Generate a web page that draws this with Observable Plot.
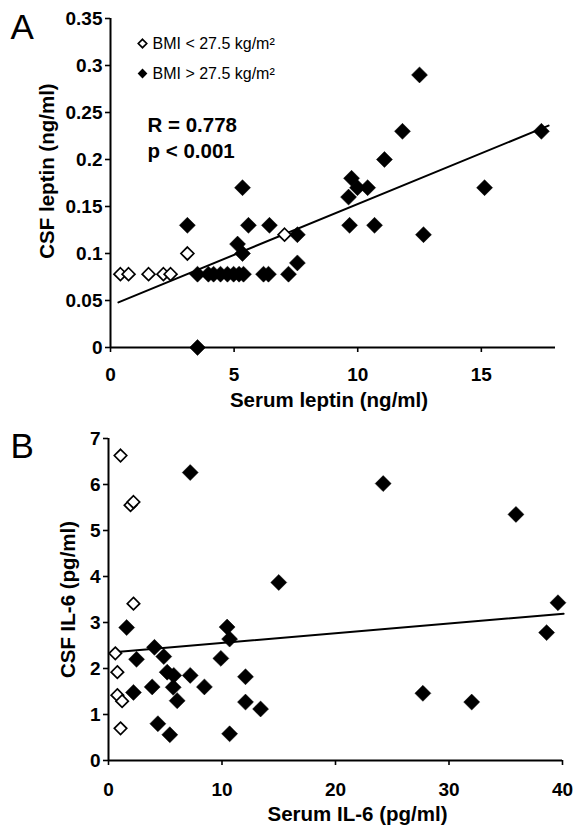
<!DOCTYPE html>
<html><head><meta charset="utf-8">
<script src="https://cdn.jsdelivr.net/npm/d3@7"></script>
<script src="https://cdn.jsdelivr.net/npm/@observablehq/plot@0.6"></script>
<style>body{margin:0;background:#fff;} #chart{width:576px;} #chart svg{display:block;}</style>
</head><body><div id="chart"></div>
<script>
// Panel A: serum leptin vs CSF leptin
const leptinLowX = [0.40, 0.73, 1.54, 2.14, 2.43, 3.11, 7.04];
const leptinLowY = [0.078, 0.078, 0.078, 0.078, 0.078, 0.10, 0.12];
const leptinHighX = [3.11, 3.52, 3.52, 3.96, 4.17, 4.45, 4.73, 4.98, 5.20, 5.38, 6.19, 6.39, 7.20, 7.56, 5.34, 5.58, 6.43, 5.14, 5.34, 7.56, 9.63, 9.67, 9.75, 9.99, 10.40, 10.68, 11.08, 12.50, 11.81, 15.13, 12.66, 17.43];
const leptinHighY = [0.13, 0, 0.078, 0.078, 0.078, 0.078, 0.078, 0.078, 0.078, 0.078, 0.078, 0.078, 0.078, 0.09, 0.17, 0.13, 0.13, 0.11, 0.10, 0.12, 0.16, 0.13, 0.18, 0.17, 0.17, 0.13, 0.20, 0.29, 0.23, 0.17, 0.12, 0.23];
const fitAX = [0.32, 17.72];
const fitAY = [0.048, 0.236];
const xTicksA = [0, 5, 10, 15];
const yTicksA = [0, 0.05, 0.1, 0.15, 0.2, 0.25, 0.3, 0.35];

// Panel B: serum IL-6 vs CSF IL-6
const il6LowX = [1.06, 1.94, 2.20, 2.20, 0.60, 0.78, 0.78, 1.20, 1.06];
const il6LowY = [6.63, 5.55, 5.62, 3.41, 2.33, 1.92, 1.42, 1.29, 0.70];
const il6HighX = [7.2, 1.6, 2.47, 2.2, 4.05, 3.85, 4.87, 4.35, 5.4, 5.17, 5.75, 5.7, 6.05, 7.2, 8.45, 9.9, 10.45, 10.67, 10.67, 12.07, 12.07, 13.4, 15.0, 24.2, 35.9, 39.6, 38.6, 27.7, 32.0];
const il6HighY = [6.26, 2.89, 2.2, 1.48, 2.46, 1.6, 2.26, 0.8, 0.56, 1.92, 1.85, 1.59, 1.3, 1.85, 1.6, 2.22, 2.9, 2.64, 0.58, 1.82, 1.27, 1.12, 3.87, 6.02, 5.35, 3.43, 2.78, 1.46, 1.27];
const fitBX = [0.2, 40.1];
const fitBY = [2.35, 3.19];
const xTicksB = [0, 10, 20, 30, 40];
const yTicksB = [0, 1, 2, 3, 4, 5, 6, 7];

const legendLabels = ["BMI < 27.5 kg/m²", "BMI > 27.5 kg/m²"];
const statLines = ["R = 0.778", "p < 0.001"];

const font = "'Liberation Sans', Arial, Helvetica, sans-serif";
const style = {fontFamily: font, fontSize: "19px", fontWeight: "bold", background: "white", color: "black", overflow: "visible"};
const pts = (xs, ys) => xs.map((x, i) => ({x, y: ys[i]}));
const fmt = d => String(d);

const plotA = Plot.plot({
  width: 576, height: 410,
  marginTop: 18, marginBottom: 63, marginLeft: 110, marginRight: 21,
  style,
  x: {domain: [0, 18], label: null},
  y: {domain: [0, 0.35], label: null},
  marks: [
    Plot.axisX({ticks: xTicksA, tickFormat: fmt, tickSize: 5, tickPadding: 15, strokeWidth: 1.6, label: null}),
    Plot.axisY({ticks: yTicksA, tickFormat: fmt, tickSize: 5, tickPadding: 3, strokeWidth: 1.6, label: null}),
    Plot.ruleY([0], {strokeWidth: 2}),
    Plot.ruleX([0], {strokeWidth: 2}),
    Plot.line(pts(fitAX, fitAY), {x: "x", y: "y", strokeWidth: 2}),
    Plot.dot(pts(leptinHighX, leptinHighY), {x: "x", y: "y", symbol: "diamond2", r: 7.2, fill: "black", stroke: "black", strokeWidth: 0.5}),
    Plot.dot(pts(leptinLowX, leptinLowY), {x: "x", y: "y", symbol: "diamond2", r: 5.8, fill: "white", stroke: "black", strokeWidth: 1.7}),
    Plot.dot([0], {frameAnchor: "top-left", dx: 32, dy: 25, symbol: "diamond2", r: 3.8, fill: "white", stroke: "black", strokeWidth: 1.7}),
    Plot.dot([0], {frameAnchor: "top-left", dx: 32, dy: 55, symbol: "diamond2", r: 4.4, fill: "black"}),
    Plot.text([legendLabels[0]], {text: d => d, frameAnchor: "top-left", dx: 42, dy: 25, textAnchor: "start", lineAnchor: "middle", fontSize: 16, fontWeight: "normal"}),
    Plot.text([legendLabels[1]], {text: d => d, frameAnchor: "top-left", dx: 42, dy: 55, textAnchor: "start", lineAnchor: "middle", fontSize: 16, fontWeight: "normal"}),
    Plot.text([statLines[0]], {text: d => d, frameAnchor: "top-left", dx: 37, dy: 113, textAnchor: "start", lineAnchor: "bottom", fontSize: 20.5, fontWeight: "bold"}),
    Plot.text([statLines[1]], {text: d => d, frameAnchor: "top-left", dx: 37, dy: 139, textAnchor: "start", lineAnchor: "bottom", fontSize: 20.5, fontWeight: "bold"}),
    Plot.text(["A"], {text: d => d, frameAnchor: "top-left", dx: -100, dy: 20, textAnchor: "start", lineAnchor: "bottom", fontSize: 35, fontWeight: "normal"}),
    Plot.text(["CSF leptin (ng/ml)"], {text: d => d, frameAnchor: "left", dx: -63, dy: -12, rotate: -90, textAnchor: "middle", lineAnchor: "middle", fontSize: 20.5}),
    Plot.text(["Serum leptin (ng/ml)"], {text: d => d, frameAnchor: "bottom", dx: -4, dy: 59, textAnchor: "middle", lineAnchor: "bottom", fontSize: 20.5})
  ]
});

const plotB = Plot.plot({
  width: 576, height: 421,
  marginTop: 28, marginBottom: 71, marginLeft: 108, marginRight: 14,
  style,
  x: {domain: [0, 40], label: null},
  y: {domain: [0, 7], label: null},
  marks: [
    Plot.axisX({ticks: xTicksB, tickFormat: fmt, tickSize: 5, tickPadding: 17, strokeWidth: 1.6, label: null}),
    Plot.axisY({ticks: yTicksB, tickFormat: fmt, tickSize: 5, tickPadding: 3, strokeWidth: 1.6, label: null}),
    Plot.ruleY([0], {strokeWidth: 2}),
    Plot.ruleX([0], {strokeWidth: 2}),
    Plot.line(pts(fitBX, fitBY), {x: "x", y: "y", strokeWidth: 2}),
    Plot.dot(pts(il6HighX, il6HighY), {x: "x", y: "y", symbol: "diamond2", r: 7.2, fill: "black", stroke: "black", strokeWidth: 0.5}),
    Plot.dot(pts(il6LowX, il6LowY), {x: "x", y: "y", symbol: "diamond2", r: 5.6, fill: "white", stroke: "black", strokeWidth: 1.7}),
    Plot.text(["B"], {text: d => d, frameAnchor: "top-left", dx: -98, dy: 19, textAnchor: "start", lineAnchor: "bottom", fontSize: 35, fontWeight: "normal"}),
    Plot.text(["CSF IL-6 (pg/ml)"], {text: d => d, frameAnchor: "left", dx: -40, dy: 0, rotate: -90, textAnchor: "middle", lineAnchor: "middle", fontSize: 20.5}),
    Plot.text(["Serum IL-6 (pg/ml)"], {text: d => d, frameAnchor: "bottom", dx: 22, dy: 60, textAnchor: "middle", lineAnchor: "bottom", fontSize: 20.5})
  ]
});

document.getElementById("chart").append(plotA, plotB);
</script>
</body></html>
